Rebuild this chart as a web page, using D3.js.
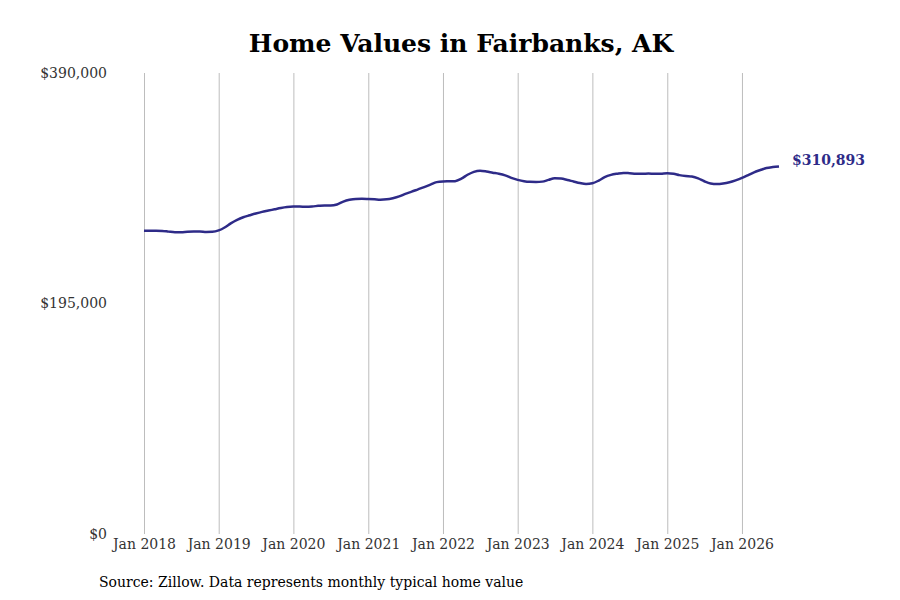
<!DOCTYPE html>
<html>
<head>
<meta charset="utf-8">
<script src="https://cdn.jsdelivr.net/npm/d3@7"></script>
<style>
  body { margin: 0; background: #fff; }
  svg { font-family: "DejaVu Serif", serif; }
</style>
</head>
<body>
<svg id="chart"></svg>
<script>
// Monthly typical home value, Jan 2018 - Jul 2026
const startMonth = '2018-01';
const homeValues = [
  256600, 256500, 256500, 256400, 255800, 255300, 255300, 255700, 255900, 255900, 255500, 255600,
  256800, 259500, 262800, 265800, 268000, 269600, 271100, 272500, 273600, 274700, 275800, 276600,
  277000, 277000, 276900, 277100, 277600, 278000, 277900, 278800, 281200, 282700, 283500, 283600,
  283400, 283100, 282800, 283100, 284100, 285600, 287800, 289600, 291600, 293500, 295600, 297700,
  298300, 298400, 298500, 300600, 303900, 306400, 307300, 306700, 305700, 304800, 303400, 301300,
  299600, 298400, 297900, 297800, 298100, 299600, 300900, 300700, 299500, 298200, 296900, 296100,
  296700, 299000, 301900, 303800, 304800, 305500, 305200, 304800, 304700, 304900, 304700, 304800,
  305200, 304700, 303600, 302800, 302400, 300900, 298400, 296500, 296000, 296500, 297600, 299200,
  301200, 303700, 306000, 307900, 309600, 310400, 310893
];
const yTicks = [0, 195000, 390000];
const xTickYears = [2018, 2019, 2020, 2021, 2022, 2023, 2024, 2025, 2026];
const title = 'Home Values in Fairbanks, AK';
const source = 'Source: Zillow. Data represents monthly typical home value';

const width = 900, height = 600;
const margin = { top: 73, right: 121, bottom: 66, left: 144 };

const parseMonth = d3.timeParse('%Y-%m');
const first = parseMonth(startMonth);
const data = homeValues.map((v, i) => ({ date: d3.timeMonth.offset(first, i), value: v }));

const svg = d3.select('#chart')
    .attr('width', width)
    .attr('height', height);

const xScale = d3.scaleTime()
    .domain(d3.extent(data, d => d.date))
    .range([margin.left, width - margin.right]);

const yScale = d3.scaleLinear()
    .domain([0, 390000])
    .range([height - margin.bottom, margin.top]);

// vertical gridlines at each January
const xAxis = d3.axisBottom(xScale)
    .tickValues(xTickYears.map(y => new Date(y, 0, 1)))
    .tickSize(-(yScale(0) - yScale(390000)))
    .tickPadding(5)
    .tickFormat(d3.timeFormat('Jan %Y'));

const xAxisG = svg.append('g')
    .attr('transform', `translate(0,${yScale(0)})`)
    .call(xAxis);
xAxisG.select('.domain').remove();
xAxisG.selectAll('line').attr('stroke', '#bdbdbd');
xAxisG.selectAll('text')
    .attr('fill', '#333')
    .style('font-size', '14px')
    .style('font-family', '"DejaVu Serif", serif');

// y labels only, no gridlines
const yAxis = d3.axisLeft(yScale)
    .tickValues(yTicks)
    .tickSize(0)
    .tickPadding(37)
    .tickFormat(d => '$' + d3.format(',')(d));

const yAxisG = svg.append('g')
    .attr('transform', `translate(${margin.left},0)`)
    .call(yAxis);
yAxisG.select('.domain').remove();
yAxisG.selectAll('text')
    .attr('fill', '#333')
    .style('font-size', '14px')
    .style('font-family', '"DejaVu Serif", serif');

const line = d3.line()
    .x(d => xScale(d.date))
    .y(d => yScale(d.value))
    .curve(d3.curveMonotoneX);

svg.append('path')
    .datum(data)
    .attr('fill', 'none')
    .attr('stroke', '#2e2b88')
    .attr('stroke-width', 2.5)
    .attr('stroke-linejoin', 'round')
    .attr('d', line);

const last = data[data.length - 1];
svg.append('text')
    .attr('x', xScale(last.date) + 13)
    .attr('y', yScale(last.value) - 6)
    .attr('dy', '0.35em')
    .attr('fill', '#2e2b88')
    .style('font-size', '14px')
    .style('font-weight', 'bold')
    .text('$' + d3.format(',')(last.value));

svg.append('text')
    .attr('x', 461)
    .attr('y', 52)
    .attr('text-anchor', 'middle')
    .attr('fill', '#000')
    .style('font-size', '25px')
    .style('font-weight', 'bold')
    .text(title);

svg.append('text')
    .attr('x', 99)
    .attr('y', 587)
    .attr('fill', '#000')
    .style('font-size', '14px')
    .text(source);
</script>
</body>
</html>
